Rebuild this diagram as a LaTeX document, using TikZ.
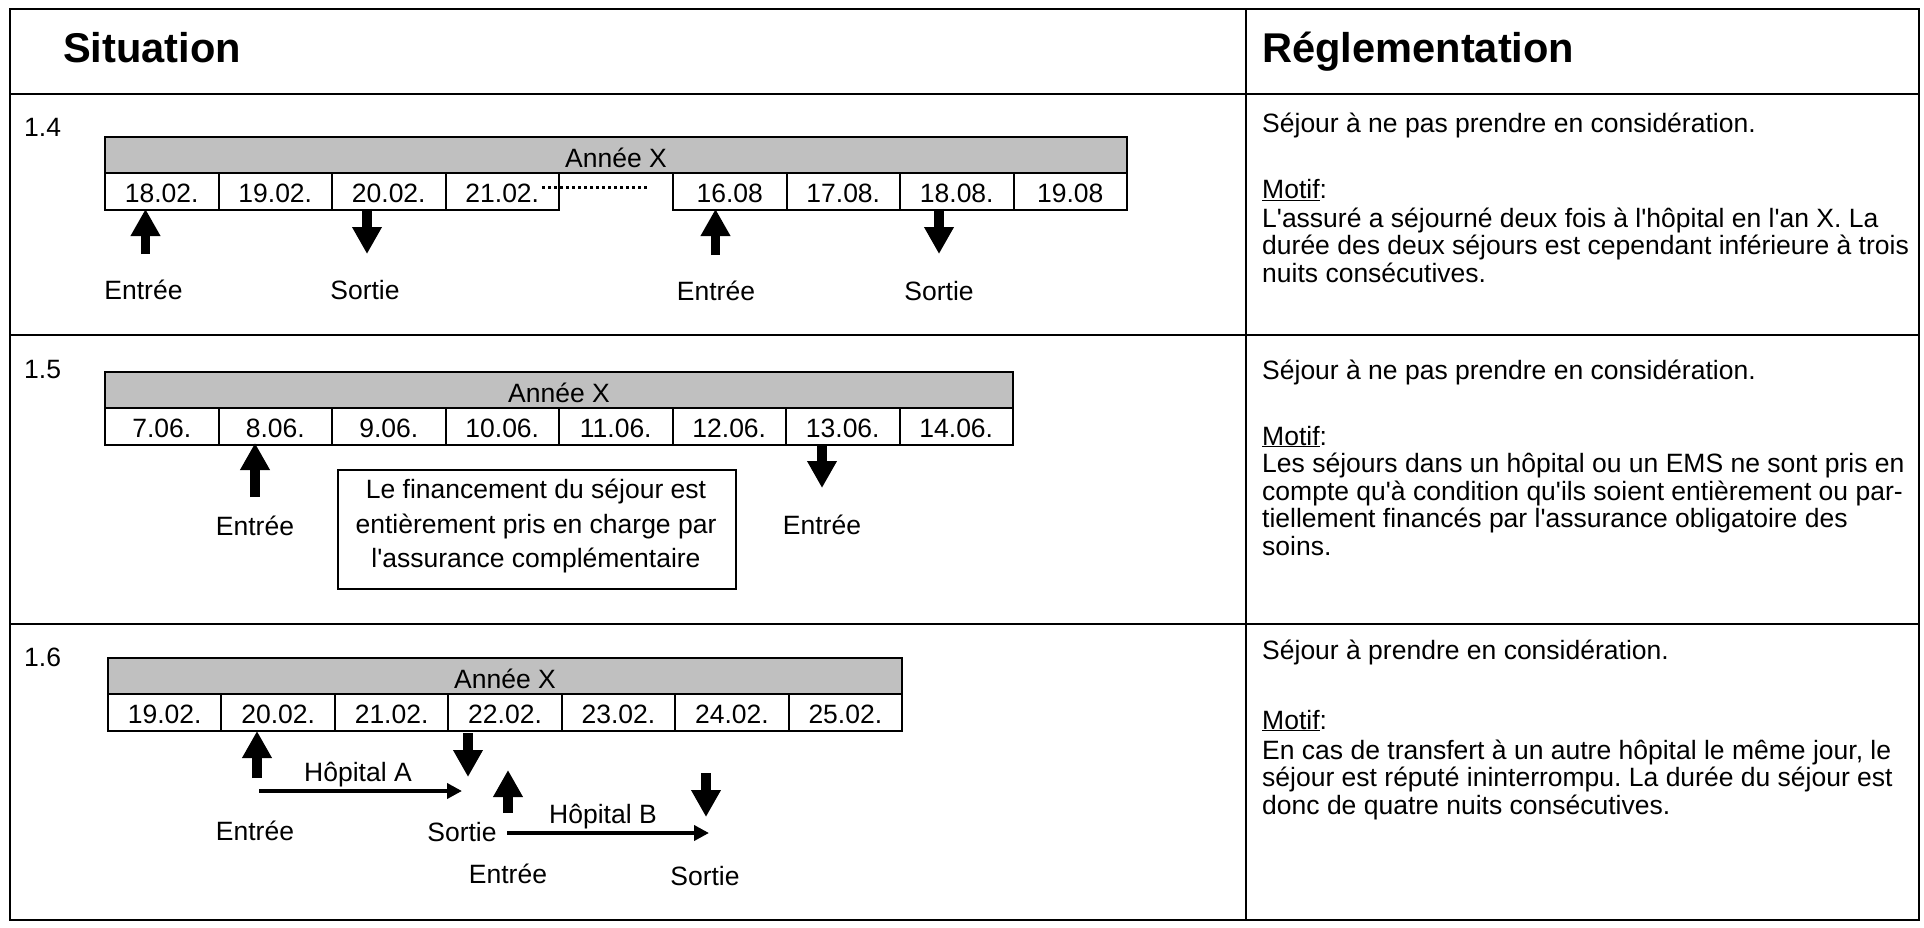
\documentclass[tikz,border=0pt]{standalone}
\usepackage{fontspec}
\setmainfont{Liberation Sans}[Ligatures=TeXOff]
\usetikzlibrary{arrows.meta}
\definecolor{bandgray}{HTML}{C0C0C0}
\frenchspacing
\begin{document}
\begin{tikzpicture}[x=1pt,y=-1pt,
  tbl/.style={line width=2.5pt},
  band/.style={draw, line width=2pt, fill=bandgray, anchor=north west, inner sep=0pt, minimum height=36pt, text height=25pt, text depth=0pt, font=\fontsize{26.5pt}{30pt}\selectfont},
  cell/.style={draw, line width=2pt, fill=white, anchor=north west, inner sep=0pt, minimum width=113.5pt, minimum height=36.5pt, text height=22pt, text depth=0pt, font=\fontsize{26.5pt}{30pt}\selectfont},
  lbl/.style={anchor=base, inner sep=0pt, font=\fontsize{26.5pt}{30pt}\selectfont},
  txt/.style={anchor=base west, inner sep=0pt, font=\fontsize{26.5pt}{30pt}\selectfont},
  head/.style={anchor=base west, inner sep=0pt, font=\fontsize{41.6pt}{48pt}\selectfont\bfseries},
  blk/.style={line width=9.5pt, -{Triangle[length=27pt,width=28pt]}},
  thinarr/.style={line width=4pt, -{Triangle[length=15pt,width=15pt]}},
  note/.style={draw, line width=2pt, anchor=north west, inner sep=0pt},
]
\useasboundingbox (0,0) rectangle (1924,928);
\fill[white] (0,0) rectangle (1924,928);

% ---- table frame ----
\draw[tbl] (10,9) rectangle (1919,920);
\draw[tbl] (10,94) -- (1919,94);
\draw[tbl] (10,335) -- (1919,335);
\draw[tbl] (10,624) -- (1919,624);
\draw[tbl] (1246,9) -- (1246,920);

% ---- headings ----
\node[head] (hsit) at (63,63) {Situation};
\node[head] (hreg) at (1262,63) {Réglementation};

% ---- row labels ----
\node[txt] (n14) at (24,137) {1.4};
\node[txt] (n15) at (24,378) {1.5};
\node[txt] (n16) at (24,666) {1.6};

% ================= Row 1.4 =================
\node[band, minimum width=1022pt] (b14) at (104,136.5) {Année X};
\foreach \d [count=\i from 0] in {18.02.,19.02.,20.02.,21.02.}
  \node[cell] (r4l\i) at ({104+113.5*\i},172.5) {\d};
\foreach \d [count=\i from 0] in {16.08,17.08.,18.08.,19.08}
  \node[cell] (r4r\i) at ({672+113.5*\i},172.5) {\d};
\coordinate (dotA) at (542,187.5);
\coordinate (dotB) at (647,187.5);
\draw[line width=2.5pt, dash pattern=on 2.5pt off 3.5pt] (dotA) -- (dotB);

\coordinate (a41t) at (145.5,209); \coordinate (a41b) at (145.5,254);
\draw[blk] (a41b) -- (a41t);
\coordinate (a42t) at (367,209); \coordinate (a42b) at (367,254);
\draw[blk] (a42t) -- (a42b);
\coordinate (a43t) at (715.5,209); \coordinate (a43b) at (715.5,255);
\draw[blk] (a43b) -- (a43t);
\coordinate (a44t) at (939,209); \coordinate (a44b) at (939,254);
\draw[blk] (a44t) -- (a44b);

\node[lbl] (e41) at (143.5,299) {Entrée};
\node[lbl] (s41) at (365,299) {Sortie};
\node[lbl] (e42) at (716,300) {Entrée};
\node[lbl] (s42) at (939,300) {Sortie};

% ================= Row 1.5 =================
\node[band, minimum width=908pt] (b15) at (104,371) {Année X};
\foreach \d [count=\i from 0] in {7.06.,8.06.,9.06.,10.06.,11.06.,12.06.,13.06.,14.06.}
  \node[cell] (r5\i) at ({104+113.5*\i},407) {\d};

\coordinate (a51t) at (255,443); \coordinate (a51b) at (255,497);
\draw[blk] (a51b) -- (a51t);
\coordinate (a52t) at (822,444); \coordinate (a52b) at (822,488);
\draw[blk] (a52t) -- (a52b);

\node[lbl] (e51) at (255,535) {Entrée};
\node[lbl] (e52) at (822,534) {Entrée};

\node[note, minimum width=398pt, minimum height=119pt] (fin) at (337,469) {};
\node[lbl] (fin1) at (536,498) {Le financement du séjour est};
\node[lbl] (fin2) at (536,533) {entièrement pris en charge par};
\node[lbl] (fin3) at (536,567) {l'assurance complémentaire};

% ================= Row 1.6 =================
\node[band, minimum width=794pt] (b16) at (107,657) {Année X};
\foreach \d [count=\i from 0] in {19.02.,20.02.,21.02.,22.02.,23.02.,24.02.,25.02.}
  \node[cell] (r6\i) at ({107+113.43*\i},693) {\d};

\coordinate (a61t) at (257,731); \coordinate (a61b) at (257,778);
\draw[blk] (a61b) -- (a61t);
\coordinate (a62t) at (468,733); \coordinate (a62b) at (468,777);
\draw[blk] (a62t) -- (a62b);
\coordinate (a63t) at (508,770); \coordinate (a63b) at (508,813);
\draw[blk] (a63b) -- (a63t);
\coordinate (a64t) at (706,773); \coordinate (a64b) at (706,817);
\draw[blk] (a64t) -- (a64b);

\coordinate (hAs) at (259,791); \coordinate (hAe) at (462,791);
\draw[thinarr] (hAs) -- (hAe);
\coordinate (hBs) at (507,833); \coordinate (hBe) at (709,833);
\draw[thinarr] (hBs) -- (hBe);

\node[lbl] (hA) at (358,781) {Hôpital A};
\node[lbl] (hB) at (603,823) {Hôpital B};
\node[lbl] (e61) at (255,840) {Entrée};
\node[lbl] (s61) at (462,841) {Sortie};
\node[lbl] (e62) at (508,883) {Entrée};
\node[lbl] (s62) at (705,885) {Sortie};

% ================= Right column =================
\node[txt] (r14a) at (1262,133) {Séjour à ne pas prendre en considération.};
\node[txt] (r14m) at (1262,199) {\underline{Motif}:};
\node[txt] (r14b) at (1262,227) {L'assuré a séjourné deux fois à l'hôpital en l'an X. La};
\node[txt] (r14c) at (1262,254.6) {durée des deux séjours est cependant inférieure à trois};
\node[txt] (r14d) at (1262,282.2) {nuits consécutives.};

\node[txt] (r15a) at (1262,379) {Séjour à ne pas prendre en considération.};
\node[txt] (r15m) at (1262,445) {\underline{Motif}:};
\node[txt] (r15b) at (1262,472.5) {Les séjours dans un hôpital ou un EMS ne sont pris en};
\node[txt] (r15c) at (1262,500.1) {compte qu'à condition qu'ils soient entièrement ou par-};
\node[txt] (r15d) at (1262,527.7) {tiellement financés par l'assurance obligatoire des};
\node[txt] (r15e) at (1262,555.3) {soins.};

\node[txt] (r16a) at (1262,659) {Séjour à prendre en considération.};
\node[txt] (r16m) at (1262,729) {\underline{Motif}:};
\node[txt] (r16b) at (1262,759) {En cas de transfert à un autre hôpital le même jour, le};
\node[txt] (r16c) at (1262,786.6) {séjour est réputé ininterrompu. La durée du séjour est};
\node[txt] (r16d) at (1262,814.2) {donc de quatre nuits consécutives.};
\end{tikzpicture}
\end{document}
